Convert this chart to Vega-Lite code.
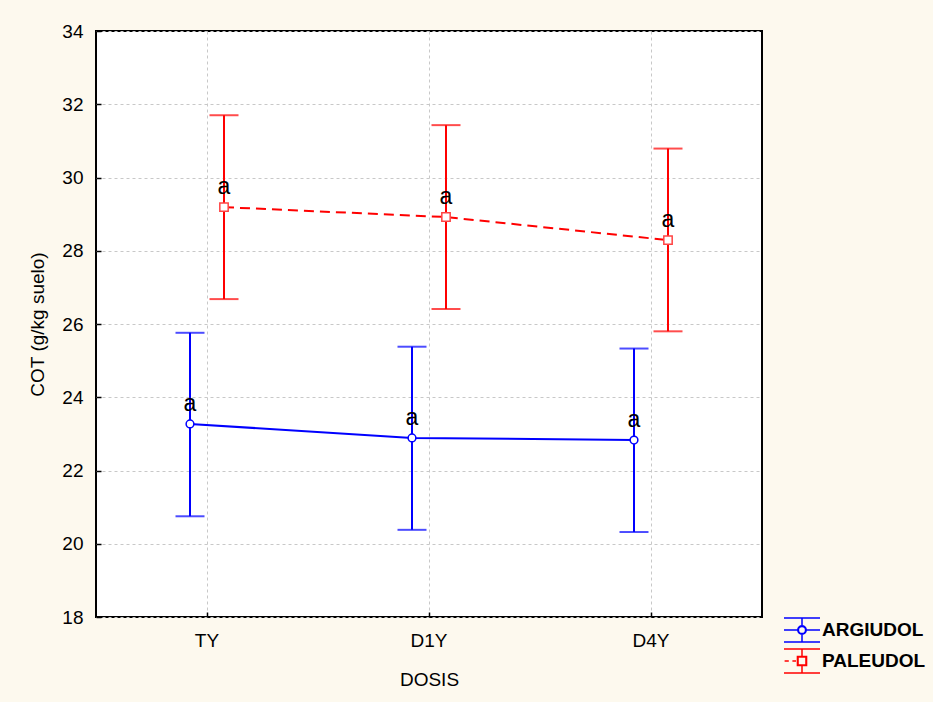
{
  "$schema": "https://vega.github.io/schema/vega-lite/v6.json",
  "width": 666,
  "height": 586,
  "autosize": {"type": "none"},
  "padding": {"left": 96, "top": 31, "right": 171, "bottom": 85},
  "background": "#fdf9ee",
  "data": {
    "values": [
      {"soil": "ARGIUDOL", "dosis": "TY", "mean": 23.27, "lo": 20.75, "hi": 25.76, "letter": "a"},
      {"soil": "ARGIUDOL", "dosis": "D1Y", "mean": 22.89, "lo": 20.38, "hi": 25.38, "letter": "a"},
      {"soil": "ARGIUDOL", "dosis": "D4Y", "mean": 22.83, "lo": 20.32, "hi": 25.33, "letter": "a"},
      {"soil": "PALEUDOL", "dosis": "TY", "mean": 29.19, "lo": 26.68, "hi": 31.70, "letter": "a"},
      {"soil": "PALEUDOL", "dosis": "D1Y", "mean": 28.92, "lo": 26.41, "hi": 31.43, "letter": "a"},
      {"soil": "PALEUDOL", "dosis": "D4Y", "mean": 28.29, "lo": 25.80, "hi": 30.79, "letter": "a"}
    ]
  },
  "encoding": {
    "x": {
      "field": "dosis",
      "type": "nominal",
      "sort": ["TY", "D1Y", "D4Y"],
      "scale": {"paddingInner": 0, "paddingOuter": 0},
      "title": "DOSIS"
    },
    "xOffset": {
      "field": "soil",
      "type": "nominal",
      "scale": {"type": "point", "range": [94, 128], "padding": 0}
    }
  },
  "layer": [
    {
      "mark": {"type": "rule", "strokeWidth": 2},
      "encoding": {
        "y": {"field": "lo", "type": "quantitative", "scale": {"domain": [18, 34], "nice": false, "zero": false}, "title": "COT (g/kg suelo)", "axis": {"values": [18, 20, 22, 24, 26, 28, 30, 32, 34]}},
        "y2": {"field": "hi"},
        "color": {"field": "soil", "type": "nominal", "scale": {"domain": ["ARGIUDOL", "PALEUDOL"], "range": ["#0000ff", "#ff0000"]}, "legend": {"title": null, "orient": "none", "legendX": 693, "legendY": 586}}
      }
    },
    {
      "mark": {"type": "tick", "thickness": 2, "size": 29},
      "encoding": {
        "y": {"field": "hi", "type": "quantitative", "title": "COT (g/kg suelo)", "axis": {"values": [18, 20, 22, 24, 26, 28, 30, 32, 34]}},
        "color": {"field": "soil", "type": "nominal", "legend": {"title": null, "orient": "none", "legendX": 693, "legendY": 586}}
      }
    },
    {
      "mark": {"type": "tick", "thickness": 2, "size": 29},
      "encoding": {
        "y": {"field": "lo", "type": "quantitative", "title": "COT (g/kg suelo)", "axis": {"values": [18, 20, 22, 24, 26, 28, 30, 32, 34]}},
        "color": {"field": "soil", "type": "nominal", "legend": {"title": null, "orient": "none", "legendX": 693, "legendY": 586}}
      }
    },
    {
      "transform": [{"filter": "datum.soil == 'ARGIUDOL'"}],
      "mark": {"type": "line", "strokeWidth": 2, "color": "#0000ff"},
      "encoding": {
        "y": {"field": "mean", "type": "quantitative", "title": "COT (g/kg suelo)", "axis": {"values": [18, 20, 22, 24, 26, 28, 30, 32, 34]}}
      }
    },
    {
      "transform": [{"filter": "datum.soil == 'PALEUDOL'"}],
      "mark": {"type": "line", "strokeWidth": 2, "color": "#ff0000", "strokeDash": [10, 6]},
      "encoding": {
        "y": {"field": "mean", "type": "quantitative", "title": "COT (g/kg suelo)", "axis": {"values": [18, 20, 22, 24, 26, 28, 30, 32, 34]}}
      }
    },
    {
      "transform": [{"filter": "datum.soil == 'ARGIUDOL'"}],
      "mark": {"type": "point", "shape": "circle", "filled": true, "fill": "white", "stroke": "#0000ff", "strokeWidth": 1.5, "size": 60, "opacity": 1},
      "encoding": {
        "y": {"field": "mean", "type": "quantitative", "title": "COT (g/kg suelo)", "axis": {"values": [18, 20, 22, 24, 26, 28, 30, 32, 34]}}
      }
    },
    {
      "transform": [{"filter": "datum.soil == 'PALEUDOL'"}],
      "mark": {"type": "point", "shape": "square", "filled": true, "fill": "white", "stroke": "#ff4444", "strokeWidth": 1.5, "size": 70, "opacity": 1},
      "encoding": {
        "y": {"field": "mean", "type": "quantitative", "title": "COT (g/kg suelo)", "axis": {"values": [18, 20, 22, 24, 26, 28, 30, 32, 34]}}
      }
    },
    {
      "mark": {"type": "text", "dy": -20, "fontSize": 23, "font": "Liberation Sans", "color": "black"},
      "encoding": {
        "y": {"field": "mean", "type": "quantitative", "title": "COT (g/kg suelo)", "axis": {"values": [18, 20, 22, 24, 26, 28, 30, 32, 34]}},
        "text": {"field": "letter"}
      }
    },
    {
      "mark": {"type": "point", "size": 0, "filled": false},
      "encoding": {
        "y": {"field": "mean", "type": "quantitative", "title": "COT (g/kg suelo)", "axis": {"values": [18, 20, 22, 24, 26, 28, 30, 32, 34]}},
        "color": {"field": "soil", "type": "nominal", "legend": {"title": null, "orient": "none", "legendX": 693, "legendY": 586}},
        "shape": {
          "field": "soil",
          "type": "nominal",
          "scale": {
            "domain": ["ARGIUDOL", "PALEUDOL"],
            "range": [
              "M-1.5,-1H1.5M-1.5,1H1.5M0,-1V-0.38M0,0.38V1M-1.5,0H-0.38M0.38,0H1.5M0.35,0A0.35,0.35,0,1,1,-0.35,0A0.35,0.35,0,1,1,0.35,0ZM0.3,0A0.3,0.3,0,1,0,-0.3,0A0.3,0.3,0,1,0,0.3,0Z",
              "M-1.5,-1H1.5M-1.5,1H1.5M0,-1V-0.4M0,0.4V1M-1.45,0H-1.1M-0.8,0H-0.5M-0.38,-0.38H0.38V0.38H-0.38ZM-0.33,-0.33V0.33H0.33V-0.33Z"
            ]
          },
          "legend": {"title": null, "orient": "none", "legendX": 693, "legendY": 586}
        }
      }
    }
  ],
  "config": {
    "font": "Liberation Sans",
    "view": {"stroke": "black", "strokeWidth": 2, "fill": "white"},
    "axis": {
      "labelFont": "Liberation Sans",
      "labelFontSize": 19,
      "labelColor": "black",
      "titleFont": "Liberation Sans",
      "titleFontSize": 19,
      "titleFontWeight": "normal",
      "titleColor": "black",
      "domain": false,
      "grid": true,
      "gridColor": "#c8c8c8",
      "gridDash": [3, 3],
      "gridWidth": 1,
      "tickColor": "black",
      "tickSize": -5,
      "tickWidth": 1.5
    },
    "axisY": {"labelPadding": 18, "titlePadding": 14},
    "axisX": {"labelPadding": 19, "titlePadding": 20, "labelAngle": 0, "bandPosition": 0.5},
    "legend": {
      "padding": 0,
      "labelFont": "Liberation Sans",
      "labelFontSize": 19,
      "labelFontWeight": "bold",
      "labelColor": "black",
      "labelOffset": 7,
      "rowPadding": 1,
      "symbolSize": 576,
      "symbolStrokeWidth": 1.5,
      "symbolFillColor": "white",
      "symbolOpacity": 1
    }
  }
}
